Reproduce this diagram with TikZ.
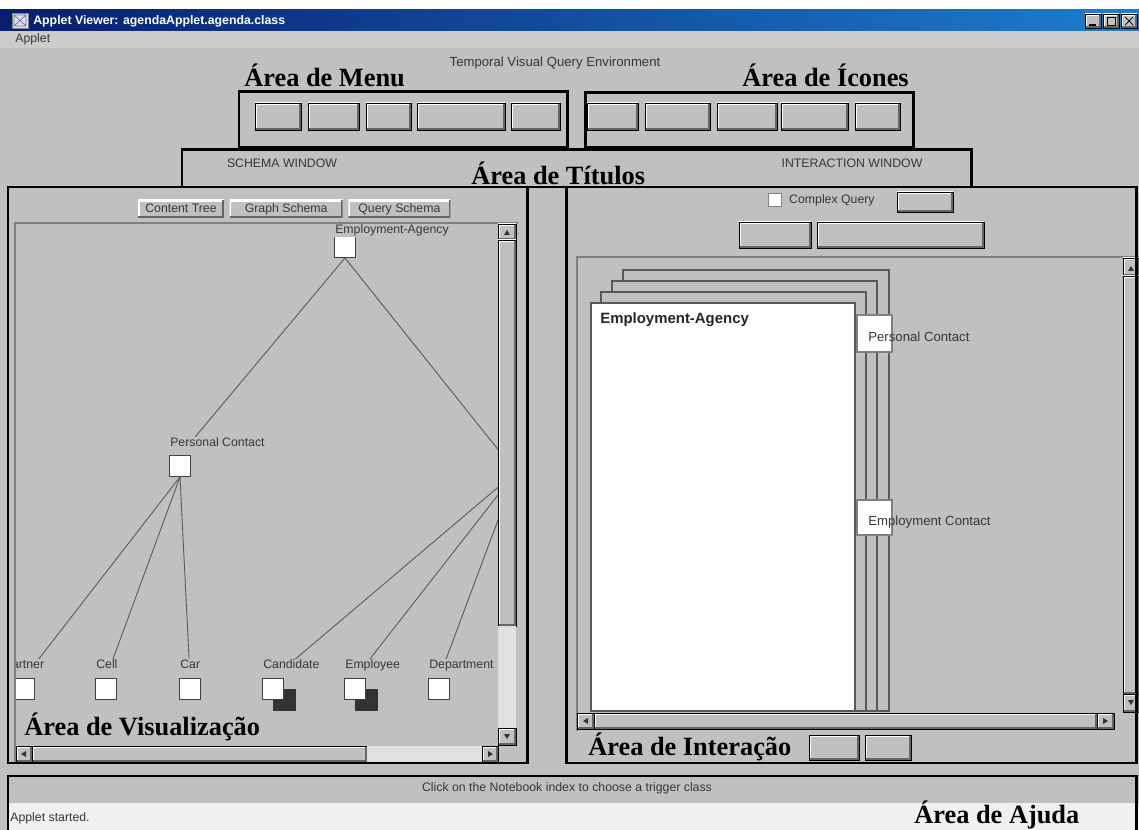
\documentclass[tikz,border=0pt]{standalone}
\usepackage{fontspec}
\setmainfont{Liberation Serif}
\newfontfamily\guifont{Liberation Sans}
\usetikzlibrary{positioning}

\definecolor{wingray}{RGB}{192,192,192}
\definecolor{winshade}{RGB}{128,128,128}
\definecolor{winlight}{RGB}{224,224,224}
\definecolor{menubar}{RGB}{204,204,204}
\definecolor{guitext}{RGB}{55,55,55}
\definecolor{navy}{RGB}{8,30,110}
\definecolor{skyblue}{RGB}{30,125,205}

\tikzset{
	area/.style={draw=black, line width=1.7pt},
	arealabel/.style={font=\bfseries\fontsize{15}{17}\selectfont, inner sep=0pt, anchor=base west},
	guilabel/.style={font=\guifont\fontsize{7}{8}\selectfont, text=guitext, inner sep=0pt},
	raised/.style={fill=wingray,
		path picture={\draw[white, line width=2pt] (path picture bounding box.south west) |- (path picture bounding box.north east);
			\draw[black!60, line width=2pt] (path picture bounding box.south west) -| (path picture bounding box.north east);}},
	button/.style={raised, guilabel, minimum height=0.36cm, text height=5pt, text depth=1.5pt},
	sunken/.style={draw=winshade, line width=0.8pt},
	cls/.style={draw=black!75, fill=white, minimum size=0.42cm, inner sep=0pt, line width=0.5pt},
	clsshadow/.style={fill=black!80, minimum size=0.46cm, inner sep=0pt},
	clslabel/.style={guilabel, fill=wingray, inner sep=0.5pt, text height=5pt, text depth=#1},
	clslabel/.default=4.6pt,
	treeline/.style={draw=black!65, line width=0.5pt},
	page/.style={draw=black!65, fill=wingray, line width=0.7pt},
	tab/.style={draw=winshade, fill=white, line width=0.6pt},
	arrowtip/.style={fill=black!80},
}

\begin{document}
\begin{tikzpicture}[x=0.02cm, y=-0.02cm]
	\useasboundingbox (0,0) rectangle (1139,830);
	\clip (0,0) rectangle (1139,830);
	\fill[wingray] (0,0) rectangle (1139,830);
	\fill[white] (0,0) rectangle (1139,10);

	% title bar and menu bar
	\shade[left color=navy, right color=skyblue] (0,10) rectangle (1139,31);
	\draw[fill=winlight, draw=winshade] (12,13) rectangle (28,28);
	\draw[navy!60] (14,15) rectangle (26,26) (14,15) -- (26,26) (14,26) -- (26,15);
	\node[font=\guifont\bfseries\fontsize{7}{8}\selectfont, text=white, anchor=west, inner sep=0pt] (title) at (33,21) {Applet Viewer: agendaApplet.agenda.class};
	\foreach \x in {1085,1103,1121}
		\draw[raised] (\x,14) rectangle (\x+16,28);
	\draw[line width=1pt] (1089,25) -- (1096,25);
	\draw (1107,17) rectangle (1115,25);
	\draw (1125,17) -- (1133,25) (1125,25) -- (1133,17);
	\fill[menubar] (0,31) rectangle (1139,48);
	\node[guilabel, anchor=west] (menuapplet) at (15,39) {Applet};

	% menu and icon buttons
	\node[guilabel, font=\guifont\fontsize{7.5}{9}\selectfont] (appname) at (555,63) {Temporal Visual Query Environment};
	\foreach \a/\b in {255/301, 308/359, 366/411, 417/505, 511/560, 587/638, 645/710, 717/777, 781/848, 855/900}
		\draw[raised] (\a,103) rectangle (\b,130);

	% window titles
	\node[guilabel] (schemawin) at (282,163) {SCHEMA WINDOW};
	\node[guilabel] (interwin) at (852,163) {INTERACTION WINDOW};

	% schema window
	\node[button, minimum width=1.72cm] (ctree) at (181,209) {Content Tree};
	\node[button, minimum width=2.26cm, right=0.1cm of ctree] (gschema) {Graph Schema};
	\node[button, minimum width=2.04cm, right=0.1cm of gschema] (qschema) {Query Schema};
	\draw[sunken] (15,762) |- (518,223);
	\begin{scope}
		\clip (16,224) rectangle (498,746);
		\node[cls] (ea) at (345,247) {};
		\node[cls] (pc) at (180,466) {};
		\coordinate (hidec) at (516,472);
		\node[cls] (partner) at (24,689) {};
		\node[cls] (cell) at (106,689) {};
		\node[cls] (car) at (190,689) {};
		\node[clsshadow] (candsh) at (284,700) {};
		\node[cls] (cand) at (273,689) {};
		\node[clsshadow] (emplsh) at (366,700) {};
		\node[cls] (empl) at (355,689) {};
		\node[cls] (dept) at (439,689) {};
		\draw[treeline] (ea.south) -- (pc.north) (ea.south) -- (hidec);
		\foreach \c in {partner,cell,car}
			\draw[treeline] (pc.south) -- (\c.north);
		\foreach \c in {cand,empl,dept}
			\draw[treeline] (hidec) -- (\c.north);
		\node[clslabel=1.5pt, above=-0.02cm of ea.north west, anchor=south west] (lea) {Employment-Agency};
		\node[clslabel=4pt, above=0cm of pc.north west, anchor=south west] (lpc) {Personal Contact};
		\node[clslabel, above=0cm of partner.north, anchor=south] (lpartner) {Partner};
		\node[clslabel, above=0cm of cell.north west, anchor=south west] (lcell) {Cell};
		\node[clslabel, above=0cm of car.north west, anchor=south west] (lcar) {Car};
		\node[clslabel, above=0cm of cand.north west, anchor=south west] (lcand) {Candidate};
		\node[clslabel, above=0cm of empl.north west, anchor=south west] (lempl) {Employee};
		\node[clslabel, above=0cm of dept.north west, anchor=south west] (ldept) {Department};
	\end{scope}
	\draw[raised] (498,224) rectangle (516,240);
	\draw[raised] (498,240) rectangle (516,626);
	\fill[winlight] (498,626) rectangle (516,728);
	\draw[raised] (498,728) rectangle (516,745);
	\draw[raised] (16,746) rectangle (32,762);
	\draw[raised] (32,746) rectangle (367,762);
	\fill[winlight] (367,746) rectangle (482,762);
	\draw[raised] (482,746) rectangle (498,762);
	\fill[arrowtip] (504,235) -- (510,235) -- (507,230) -- cycle;
	\fill[arrowtip] (504,734) -- (510,734) -- (507,739) -- cycle;
	\fill[arrowtip] (26,751) -- (26,757) -- (21,754) -- cycle;
	\fill[arrowtip] (488,751) -- (488,757) -- (493,754) -- cycle;

	% interaction window
	\node[draw=winshade, fill=white, minimum size=0.26cm, inner sep=0pt] (chk) at (775,200) {};
	\node[guilabel, right=0.14cm of chk] (cquery) {Complex Query};
	\draw[raised] (897,192) rectangle (953,212);
	\draw[raised] (739,222) rectangle (811,248);
	\draw[raised] (817,222) rectangle (984,248);
	\draw[sunken] (577,731) |- (1139,257);
	\foreach \l/\t/\r in {623/270/889, 612/281/877, 601/292/866}
		\draw[page] (\l,\t) rectangle (\r,711);
	\draw[page, fill=white] (591,303) rectangle (855,711);
	\node[font=\guifont\bfseries\fontsize{8.5}{10}\selectfont, text=black!85, anchor=west, inner sep=0pt] (eatitle) at (600,320) {Employment-Agency};
	\node[tab, minimum width=0.7cm, minimum height=0.74cm] (tabpc) at (874.5,333.5) {};
	\node[tab, minimum width=0.7cm, minimum height=0.7cm] (tabec) at (874.5,517.5) {};
	\node[guilabel, font=\guifont\fontsize{7.5}{9}\selectfont, anchor=west] (lpctab) at (868,337) {Personal Contact};
	\node[guilabel, font=\guifont\fontsize{7.5}{9}\selectfont, anchor=west] (lectab) at (868,522) {Employment Contact};
	\draw[raised] (577,713) rectangle (594,729);
	\draw[raised] (594,713) rectangle (1097,729);
	\draw[raised] (1097,713) rectangle (1114,729);
	\draw[raised] (1123,258) rectangle (1139,276);
	\draw[raised] (1123,276) rectangle (1139,694);
	\draw[raised] (1123,694) rectangle (1139,712);
	\fill[arrowtip] (1128,271) -- (1134,271) -- (1131,266) -- cycle;
	\fill[arrowtip] (1128,700) -- (1134,700) -- (1131,705) -- cycle;
	\fill[arrowtip] (588,718) -- (588,724) -- (583,721) -- cycle;
	\fill[arrowtip] (1103,718) -- (1103,724) -- (1108,721) -- cycle;
	\draw[raised] (809,735) rectangle (859,760);
	\draw[raised] (865,735) rectangle (911,760);

	% help line
	\fill[white!94!black] (8,803) rectangle (1139,830);
	\node[guilabel] (helpmsg) at (567,788) {Click on the Notebook index to choose a trigger class};
	\node[guilabel, anchor=west] (status) at (10,818) {Applet started.};

	% areas
	\draw[area] (239,92) rectangle (567,148);
	\draw[area] (585,93) rectangle (913,148);
	\draw[area] (182,150) rectangle (971,187);
	\draw[area] (8,187) rectangle (527,763);
	\draw[area] (566,187) rectangle (1136,763);
	\draw[area] (8,776) rectangle (1136,840);
	\node[arealabel] (lmenu) at (244,87) {Área de Menu};
	\node[arealabel] (licons) at (742,87) {Área de Ícones};
	\node[arealabel] (ltitles) at (471,185) {Área de Títulos};
	\node[arealabel] (lvis) at (24,735) {Área de Visualização};
	\node[arealabel] (linter) at (588,755) {Área de Interação};
	\node[arealabel] (lhelp) at (914,823) {Área de Ajuda};
\end{tikzpicture}
\end{document}
